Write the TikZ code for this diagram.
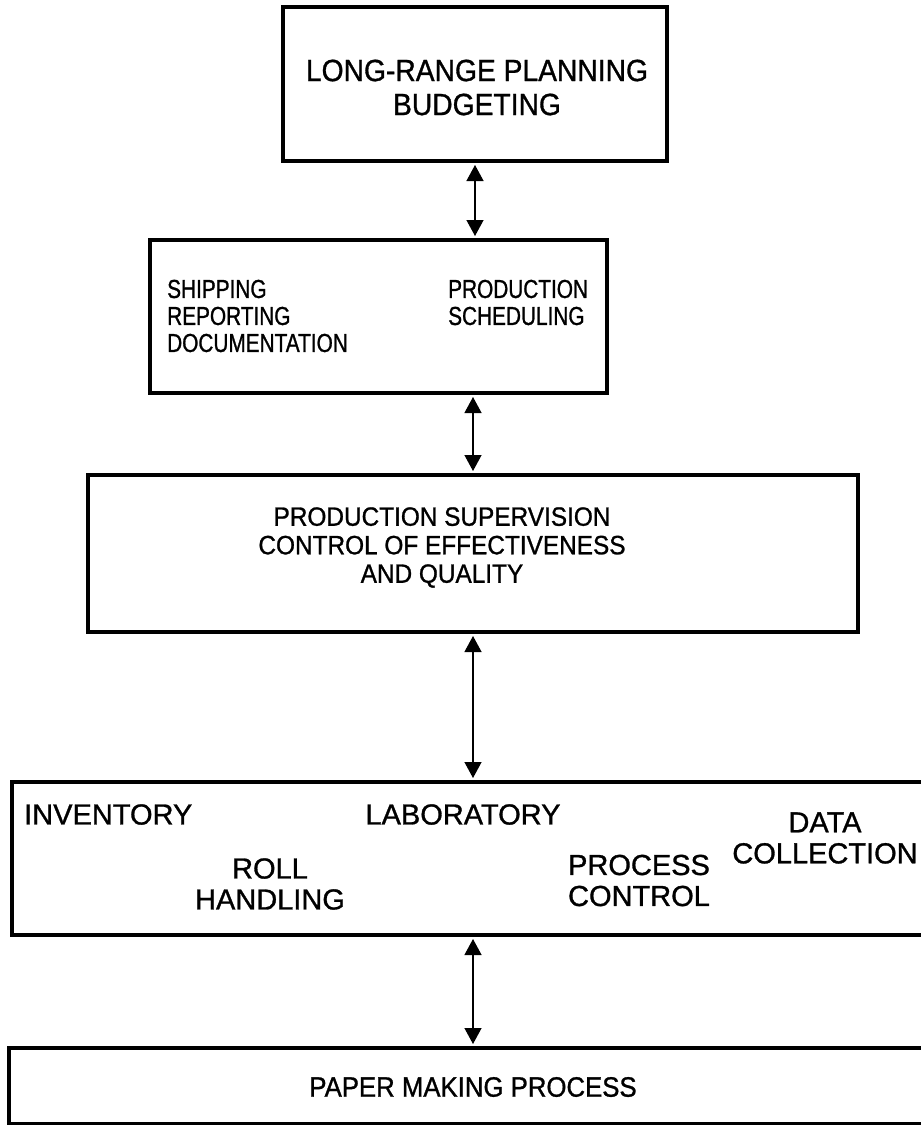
\documentclass[tikz,border=0pt]{standalone}
\usepackage{fontspec}
\setmainfont{Liberation Sans}[FakeStretch=0.92,FakeBold=1]
\newfontfamily\narrowfont{Liberation Sans}[FakeStretch=0.8,FakeBold=1]
\newfontfamily\plainfont{Liberation Sans}[FakeBold=1]
\usetikzlibrary{arrows.meta}

\begin{document}
\begin{tikzpicture}
[x=1pt,y=-1pt,
box/.style ={rectangle, draw, line width=3.5pt, outer sep=0pt, inner sep=0pt},
toplabel/.style ={inner sep=0pt, align=center, font=\fontsize{30.7}{34}\selectfont},
schedlabel/.style ={inner sep=0pt, align=left, anchor=west, font=\narrowfont\fontsize{26}{27}\selectfont},
supervlabel/.style ={inner sep=0pt, align=center, font=\fontsize{26.5}{28.5}\selectfont},
milllabel/.style ={inner sep=0pt, align=center, font=\plainfont\fontsize{29}{31}\selectfont},
paperlabel/.style ={inner sep=0pt, font=\fontsize{28}{30}\selectfont},
link/.style ={draw, line width=1.3pt, shorten >=4pt, shorten <=4pt,
{Triangle[width=17pt,length=16pt]}-{Triangle[width=17pt,length=16pt]}}]
\useasboundingbox (0,0) rectangle (921,1125);
% the five levels
\node [box, minimum width=384, minimum height=154] (plan)   at (475,84)      {};
\node [box, minimum width=457, minimum height=153] (sched)  at (378.5,316.5) {};
\node [box, minimum width=770, minimum height=157] (superv) at (473,553.5)   {};
\node [box, minimum width=948, minimum height=153] (mill)   at (486,858.5)   {};
\node [box, minimum width=951, minimum height=76]  (paper)  at (484.5,1086)  {};
% level 1
\node [toplabel] (plantext) at (477,87.5) {LONG-RANGE PLANNING\\BUDGETING};
% level 2
\node [schedlabel] (shipping)  at (167,316)   {SHIPPING\\REPORTING\\DOCUMENTATION};
\node [schedlabel] (prodsched) at (448,302.5) {PRODUCTION\\SCHEDULING};
% level 3
\node [supervlabel] (supervtext) at (442,547.5)
  {PRODUCTION SUPERVISION\\CONTROL OF EFFECTIVENESS\\AND QUALITY};
% level 4
\node [milllabel, anchor=west] (inventory) at (24,814.5) {INVENTORY};
\node [milllabel] (laboratory) at (463,814.5) {LABORATORY};
\node [milllabel] (roll)       at (270,884)   {ROLL\\HANDLING};
\node [milllabel] (process)    at (639,880.5) {PROCESS\\CONTROL};
\node [milllabel] (datacoll)   at (825,838)   {DATA\\COLLECTION};
% level 5
\node [paperlabel] (papertext) at (473,1087) {PAPER MAKING PROCESS};
\begin{scope}[every path/.style=link]
\path (plan.south) -- (plan.south |- sched.north);
\path (superv.north |- sched.south) -- (superv.north);
\path (superv.south) -- (superv.south |- mill.north);
\path (superv.south |- mill.south) -- (superv.south |- paper.north);
\end{scope}
\end{tikzpicture}
\end{document}
